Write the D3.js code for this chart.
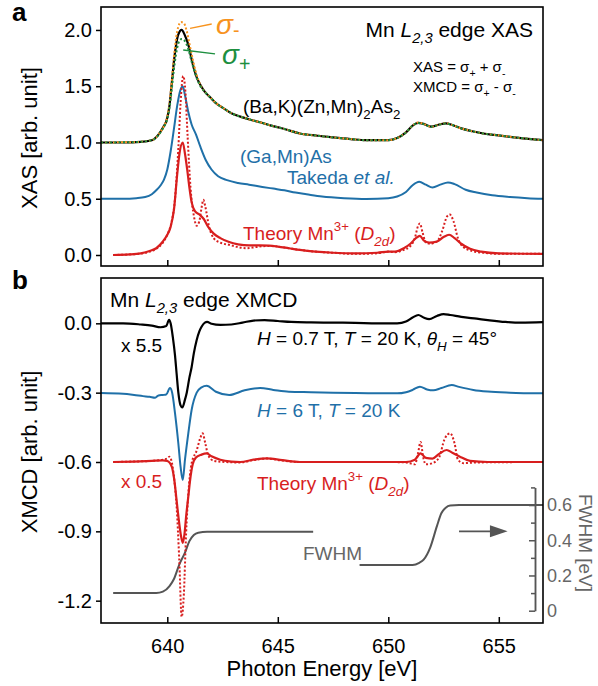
<!DOCTYPE html>
<html>
<head>
<meta charset="utf-8">
<script src="https://cdn.jsdelivr.net/npm/d3@7"></script>
<style>
  body { margin: 0; background: #fff; }
  svg { font-family: 'Liberation Sans', Arial, sans-serif; }
  .axis path { display: none; }
  .axis line { stroke: #000; stroke-width: 1.5; }
  .axis text { font-size: 20px; fill: #000; }
  .fw-axis line, .fw-axis path { stroke: #555; stroke-width: 1.5; }
  .fw-axis text { font-size: 18px; fill: #666; }
</style>
</head>
<body>
<div id="chart"></div>
<script>
const width = 598
const height = 686

// tick values
const energyTicks = [640, 645, 650, 655]
const xasTicks = [0, 0.5, 1, 1.5, 2]
const xmcdTicks = [0, -0.3, -0.6, -0.9, -1.2]
const fwhmTicks = [0, 0.2, 0.4, 0.6]
const fwhmMinorTicks = [0.1, 0.3, 0.5, 0.7]

// panel a: XAS, [energy eV, intensity]
const bkXas = [[637.0,1.0],[638.0,1.0],[638.8,1.005],[639.3,1.02],[639.6,1.07],[639.8,1.13],[640.0,1.22],[640.1,1.33],[640.2,1.52],[640.3,1.72],[640.4,1.87],[640.5,1.96],[640.65,2.0],[640.8,1.95],[640.95,1.87],[641.1,1.74],[641.2,1.66],[641.35,1.57],[641.5,1.51],[641.7,1.45],[641.95,1.4],[642.2,1.35],[642.5,1.31],[642.9,1.26],[643.3,1.23],[643.8,1.2],[644.2,1.18],[644.7,1.15],[645.3,1.12],[646.0,1.08],[646.8,1.06],[647.5,1.045],[648.3,1.03],[649.0,1.02],[650.0,1.02],[650.4,1.04],[650.8,1.09],[651.1,1.15],[651.35,1.175],[651.6,1.165],[651.95,1.14],[652.3,1.16],[652.6,1.17],[652.9,1.155],[653.3,1.125],[653.8,1.1],[654.3,1.08],[654.8,1.067],[655.5,1.05],[656.2,1.035],[657.0,1.02]]
const sigMinus = [[637.0,1.0],[638.5,1.003],[639.3,1.02],[639.6,1.07],[639.8,1.13],[640.0,1.23],[640.1,1.35],[640.2,1.54],[640.3,1.76],[640.4,1.93],[640.5,2.03],[640.62,2.07],[640.75,2.06],[640.88,1.99],[641.0,1.88],[641.15,1.74],[641.3,1.62],[641.5,1.51],[641.75,1.44],[641.95,1.4],[642.2,1.35],[642.5,1.31],[642.9,1.26],[643.3,1.23],[643.8,1.2],[644.2,1.18],[644.7,1.15],[645.3,1.12],[646.0,1.08],[646.8,1.06],[647.5,1.045],[648.3,1.03],[649.0,1.02],[650.0,1.02],[650.4,1.04],[650.8,1.09],[651.1,1.15],[651.35,1.178],[651.6,1.165],[651.95,1.14],[652.3,1.16],[652.6,1.172],[652.9,1.155],[653.3,1.125],[653.8,1.1],[654.3,1.08],[654.8,1.067],[655.5,1.05],[656.2,1.035],[657.0,1.02]]
const sigPlus = [[637.0,1.0],[638.5,1.003],[639.3,1.02],[639.6,1.065],[639.8,1.125],[640.0,1.21],[640.1,1.31],[640.2,1.47],[640.3,1.65],[640.4,1.79],[640.5,1.88],[640.65,1.92],[640.8,1.9],[640.95,1.83],[641.1,1.72],[641.3,1.59],[641.5,1.5],[641.75,1.44],[641.95,1.4],[642.2,1.35],[642.5,1.31],[642.9,1.26],[643.3,1.23],[643.8,1.2],[644.2,1.18],[644.7,1.15],[645.3,1.12],[646.0,1.08],[646.8,1.06],[647.5,1.045],[648.3,1.03],[649.0,1.02],[650.0,1.02],[650.4,1.04],[650.8,1.09],[651.1,1.15],[651.35,1.172],[651.6,1.163],[651.95,1.14],[652.3,1.158],[652.6,1.168],[652.9,1.155],[653.3,1.125],[653.8,1.1],[654.3,1.08],[654.8,1.067],[655.5,1.05],[656.2,1.035],[657.0,1.02]]
const gmXas = [[637.0,0.5],[638.0,0.5],[638.6,0.505],[639.0,0.515],[639.3,0.54],[639.5,0.575],[639.7,0.62],[639.85,0.67],[640.0,0.76],[640.15,0.92],[640.3,1.12],[640.45,1.33],[640.6,1.47],[640.7,1.5],[640.8,1.42],[640.95,1.27],[641.1,1.16],[641.3,1.07],[641.5,0.96],[641.75,0.84],[642.0,0.76],[642.3,0.7],[642.7,0.665],[643.2,0.64],[643.7,0.625],[644.3,0.605],[644.8,0.59],[645.3,0.575],[645.8,0.555],[646.3,0.54],[647.0,0.52],[648.0,0.505],[649.0,0.498],[650.0,0.505],[650.4,0.52],[650.8,0.56],[651.1,0.62],[651.4,0.65],[651.7,0.625],[652.0,0.6],[652.35,0.625],[652.7,0.645],[653.0,0.63],[653.5,0.58],[654.0,0.555],[654.7,0.53],[655.5,0.515],[656.3,0.505],[657.0,0.5]]
const thXas = [[637.55,0.0],[638.3,0.005],[638.8,0.015],[639.2,0.035],[639.5,0.06],[639.8,0.12],[640.0,0.18],[640.15,0.25],[640.3,0.4],[640.45,0.72],[640.55,0.9],[640.7,1.0],[640.8,0.9],[640.9,0.76],[641.0,0.6],[641.1,0.47],[641.25,0.39],[641.45,0.36],[641.65,0.32],[641.85,0.25],[642.1,0.19],[642.4,0.15],[642.8,0.115],[643.2,0.095],[643.7,0.085],[644.2,0.085],[644.6,0.083],[645.0,0.075],[645.5,0.06],[646.0,0.045],[646.7,0.03],[647.5,0.02],[648.5,0.015],[649.5,0.02],[650.0,0.03],[650.3,0.03],[650.7,0.06],[651.0,0.1],[651.25,0.15],[651.43,0.17],[651.6,0.13],[651.85,0.11],[652.2,0.12],[652.5,0.16],[652.75,0.18],[653.0,0.15],[653.3,0.1],[653.7,0.055],[654.2,0.03],[655.0,0.015],[657.0,0.01]]
const thXasRaw = [[637.55,0.0],[638.3,0.005],[638.8,0.012],[639.2,0.03],[639.5,0.055],[639.8,0.11],[640.0,0.18],[640.2,0.3],[640.35,0.5],[640.5,0.95],[640.6,1.35],[640.72,1.59],[640.82,1.45],[640.92,1.05],[641.05,0.6],[641.2,0.35],[641.33,0.26],[641.45,0.3],[641.55,0.42],[641.63,0.49],[641.72,0.43],[641.88,0.26],[642.1,0.15],[642.4,0.11],[642.8,0.09],[643.2,0.07],[643.6,0.06],[644.0,0.07],[644.5,0.08],[645.0,0.075],[645.5,0.06],[646.0,0.045],[646.7,0.03],[647.5,0.02],[648.5,0.01],[649.5,0.015],[650.0,0.03],[650.3,0.025],[650.7,0.045],[651.0,0.08],[651.2,0.15],[651.35,0.26],[651.43,0.28],[651.55,0.2],[651.7,0.11],[651.9,0.1],[652.2,0.12],[652.45,0.22],[652.65,0.34],[652.78,0.36],[652.95,0.3],[653.15,0.15],[653.4,0.07],[653.8,0.035],[654.3,0.02],[655.0,0.01],[657.0,0.01]]

// panel b: XMCD
const bkXmcd = [[637.0,0.0],[638.0,0.0],[638.8,-0.005],[639.3,-0.01],[639.7,-0.017],[639.95,-0.012],[640.08,0.015],[640.15,0.0],[640.25,-0.06],[640.35,-0.14],[640.42,-0.216],[640.5,-0.3],[640.6,-0.355],[640.68,-0.364],[640.8,-0.33],[640.88,-0.3],[641.0,-0.235],[641.1,-0.19],[641.2,-0.13],[641.33,-0.072],[641.45,-0.035],[641.55,-0.015],[641.7,0.003],[641.8,0.006],[642.0,-0.002],[642.4,-0.007],[642.9,-0.005],[643.4,0.003],[643.9,0.012],[644.4,0.014],[645.0,0.01],[645.6,0.006],[646.5,0.004],[647.5,0.003],[648.5,0.002],[649.5,0.0],[650.4,0.0],[650.8,0.008],[651.1,0.025],[651.36,0.036],[651.6,0.025],[651.85,0.018],[652.2,0.032],[652.5,0.04],[652.8,0.036],[653.3,0.028],[654.0,0.02],[654.5,0.014],[655.3,0.006],[656.0,0.003],[657.0,0.005]]
const gmXmcd = [[637.0,-0.302],[638.0,-0.305],[638.5,-0.31],[638.9,-0.315],[639.2,-0.318],[639.45,-0.322],[639.6,-0.312],[639.8,-0.31],[639.95,-0.308],[640.12,-0.28],[640.22,-0.3],[640.35,-0.39],[640.5,-0.52],[640.6,-0.62],[640.7,-0.678],[640.8,-0.59],[640.95,-0.476],[641.1,-0.375],[641.33,-0.3],[641.55,-0.277],[641.78,-0.27],[642.2,-0.296],[642.8,-0.31],[643.5,-0.29],[644.2,-0.28],[644.8,-0.288],[645.5,-0.296],[646.5,-0.298],[647.5,-0.3],[648.5,-0.302],[649.5,-0.303],[650.4,-0.303],[650.8,-0.298],[651.1,-0.288],[651.43,-0.274],[651.75,-0.286],[652.04,-0.29],[652.4,-0.28],[652.87,-0.267],[653.2,-0.275],[653.85,-0.288],[654.5,-0.295],[655.5,-0.3],[657.0,-0.303]]
const thXmcd = [[637.55,-0.6],[638.5,-0.598],[639.3,-0.595],[639.8,-0.593],[640.0,-0.596],[640.2,-0.62],[640.32,-0.68],[640.42,-0.765],[640.52,-0.85],[640.62,-0.92],[640.7,-0.95],[640.78,-0.91],[640.85,-0.837],[640.95,-0.75],[641.03,-0.68],[641.15,-0.61],[641.3,-0.58],[641.55,-0.568],[641.78,-0.563],[642.0,-0.575],[642.4,-0.59],[642.9,-0.598],[643.3,-0.6],[643.9,-0.59],[644.5,-0.584],[645.2,-0.592],[646.0,-0.6],[648.0,-0.6],[650.0,-0.6],[650.8,-0.6],[651.2,-0.59],[651.46,-0.563],[651.7,-0.582],[652.0,-0.585],[652.3,-0.565],[652.64,-0.548],[652.9,-0.56],[653.24,-0.577],[653.7,-0.595],[654.5,-0.6],[657.0,-0.6]]
const thXmcdRaw = [[637.55,-0.6],[638.5,-0.598],[639.3,-0.595],[639.8,-0.59],[640.0,-0.585],[640.1,-0.577],[640.2,-0.6],[640.32,-0.68],[640.42,-0.79],[640.54,-1.02],[640.65,-1.27],[640.75,-1.17],[640.85,-0.91],[640.95,-0.74],[641.1,-0.606],[641.33,-0.55],[641.48,-0.5],[641.6,-0.476],[641.72,-0.52],[641.85,-0.57],[642.1,-0.595],[642.6,-0.6],[643.3,-0.602],[643.9,-0.592],[644.5,-0.585],[645.2,-0.594],[646.0,-0.6],[648.0,-0.6],[650.0,-0.6],[650.8,-0.602],[651.2,-0.61],[651.35,-0.56],[651.46,-0.513],[651.58,-0.58],[651.7,-0.61],[652.0,-0.605],[652.3,-0.58],[652.55,-0.5],[652.8,-0.476],[653.0,-0.52],[653.15,-0.59],[653.4,-0.605],[654.0,-0.602],[657.0,-0.6]]

// broadening used for theory, right axis [eV]
const fwhmL3 = [[637.55,0.1],[639.5,0.1],[639.8,0.108],[640.1,0.14],[640.3,0.18],[640.55,0.265],[640.8,0.33],[641.0,0.395],[641.2,0.43],[641.4,0.443],[641.8,0.448],[646.6,0.448]]
const fwhmL2 = [[648.7,0.26],[651.1,0.26],[651.4,0.272],[651.6,0.29],[651.9,0.36],[652.2,0.48],[652.4,0.553],[652.6,0.585],[652.8,0.597],[653.2,0.6],[657.0,0.6]]

const black = '#000'
const orange = '#f7931e'
const green = '#1d8f3f'
const blue = '#1f70a8'
const red = '#d81e1e'
const gray = '#555'

const svg = d3
  .select('#chart')
  .append('svg')
  .attr('width', width)
  .attr('height', height)

const xPositionScale = d3.scaleLinear().domain([637, 657]).range([101, 543])
const yXas = d3.scaleLinear().domain([-0.0978, 2.204]).range([266, 7])
const yXmcd = d3.scaleLinear().domain([-1.2966, 0.1961]).range([623, 278])
const yFwhm = d3.scaleLinear().domain([0, 0.7]).range([610.7, 487.4])

const fmt = d => d.toFixed(1)

// clip each panel
const defs = svg.append('defs')
defs.append('clipPath').attr('id', 'clip-a')
  .append('rect').attr('x', 101).attr('y', 7).attr('width', 442).attr('height', 259)
defs.append('clipPath').attr('id', 'clip-b')
  .append('rect').attr('x', 101).attr('y', 278).attr('width', 442).attr('height', 345)

function drawLine(g, data, yScale, color, w, dash) {
  const line = d3.line()
    .x(d => xPositionScale(d[0]))
    .y(d => yScale(d[1]))
    .curve(d3.curveMonotoneX)
  g.append('path')
    .datum(data)
    .attr('d', line)
    .attr('fill', 'none')
    .attr('stroke', color)
    .attr('stroke-width', w)
    .attr('stroke-linejoin', 'round')
    .attr('stroke-dasharray', dash || null)
}

// text with italic / sub / sup parts
function rich(x, y, parts, opts) {
  const fs = opts.size || 19
  const subShift = opts.sub != null ? opts.sub : 0.3
  const t = svg.append('text')
    .attr('x', x)
    .attr('y', y)
    .attr('font-size', fs)
    .attr('fill', opts.color || '#000')
    .attr('text-anchor', opts.anchor || 'start')
  let cur = 0
  parts.forEach(p => {
    const s = p[1] || ''
    let shift = 0
    if (s.includes('sub')) shift = fs * subShift
    if (s.includes('sup')) shift = -fs * 0.5
    const ts = t.append('tspan').text(p[0]).attr('dy', shift - cur)
    cur = shift
    if (s.includes('i')) ts.attr('font-style', 'italic')
    if (s.includes('sub') || s.includes('sup')) ts.attr('font-size', fs * 0.7)
  })
  return t
}

// ---------- panel a ----------
const gA = svg.append('g').attr('clip-path', 'url(#clip-a)')
drawLine(gA, bkXas, yXas, black, 2.2)
drawLine(gA, sigMinus, yXas, orange, 2, '2,2')
drawLine(gA, sigPlus, yXas, green, 2, '2,2.4')
drawLine(gA, gmXas, yXas, blue, 2)
drawLine(gA, thXasRaw, yXas, red, 2, '2,2')
drawLine(gA, thXas, yXas, red, 2.2)

svg.append('g')
  .attr('class', 'axis')
  .attr('transform', 'translate(101,0)')
  .call(d3.axisLeft(yXas).tickValues(xasTicks).tickFormat(fmt).tickSize(5).tickPadding(4))
svg.append('g')
  .attr('class', 'axis')
  .attr('transform', 'translate(0,266)')
  .call(d3.axisBottom(xPositionScale).tickValues(energyTicks).tickSize(-6).tickFormat(''))

svg.append('rect')
  .attr('x', 101).attr('y', 7).attr('width', 442).attr('height', 259)
  .attr('fill', 'none').attr('stroke', '#000').attr('stroke-width', 1.6)

// sigma leader lines
svg.append('line')
  .attr('x1', xPositionScale(641.03)).attr('y1', yXas(2.015))
  .attr('x2', xPositionScale(642.01)).attr('y2', yXas(2.053))
  .attr('stroke', orange).attr('stroke-width', 1.3)
svg.append('line')
  .attr('x1', xPositionScale(640.72)).attr('y1', yXas(1.822))
  .attr('x2', xPositionScale(642.16)).attr('y2', yXas(1.787))
  .attr('stroke', green).attr('stroke-width', 1.3)

rich(216, 34, [['σ', 'i'], ['-', 'sub']], { size: 28, color: orange, sub: 0.12 })
rich(222, 64, [['σ', 'i'], ['+', 'sub']], { size: 28, color: green, sub: 0.25 })

rich(533, 37, [['Mn '], ['L', 'i'], ['2,3', 'isub'], [' edge XAS']], { size: 21, anchor: 'end' })
rich(413, 72, [['XAS = σ'], ['+', 'sub'], [' + σ'], ['-', 'sub']], { size: 15 })
rich(413, 92, [['XMCD = σ'], ['+', 'sub'], [' - σ'], ['-', 'sub']], { size: 15 })
rich(243, 113, [['(Ba,K)(Zn,Mn)'], ['2', 'sub'], ['As'], ['2', 'sub']], { size: 19 })
rich(240, 163, [['(Ga,Mn)As']], { size: 19, color: blue })
rich(287, 184, [['Takeda '], ['et al.', 'i']], { size: 19, color: blue })
rich(243, 240, [['Theory Mn'], ['3+', 'sup'], [' ('], ['D', 'i'], ['2d', 'isub'], [')']], { size: 19, color: red })

// ---------- panel b ----------
const gB = svg.append('g').attr('clip-path', 'url(#clip-b)')
drawLine(gB, fwhmL3, yFwhm, gray, 2)
drawLine(gB, fwhmL2, yFwhm, gray, 2)
drawLine(gB, bkXmcd, yXmcd, black, 2.2)
drawLine(gB, gmXmcd, yXmcd, blue, 2)
drawLine(gB, thXmcdRaw, yXmcd, red, 2, '2,2')
drawLine(gB, thXmcd, yXmcd, red, 2.2)

svg.append('g')
  .attr('class', 'axis')
  .attr('transform', 'translate(101,0)')
  .call(d3.axisLeft(yXmcd).tickValues(xmcdTicks).tickFormat(fmt).tickSize(5).tickPadding(4))
svg.append('g')
  .attr('class', 'axis')
  .attr('transform', 'translate(0,623)')
  .call(d3.axisBottom(xPositionScale).tickValues(energyTicks).tickSize(-6).tickPadding(16))

// FWHM axis inside the panel
svg.append('g')
  .attr('class', 'fw-axis')
  .attr('transform', 'translate(535,0)')
  .call(d3.axisRight(yFwhm).tickValues(fwhmTicks).tickFormat(d => d === 0 ? '0' : d.toFixed(1))
    .tickSizeInner(-6).tickSizeOuter(0).tickPadding(12))
svg.append('g')
  .attr('class', 'fw-axis')
  .attr('transform', 'translate(535,0)')
  .call(d3.axisRight(yFwhm).tickValues(fwhmMinorTicks).tickFormat('').tickSizeInner(-4).tickSizeOuter(0))

svg.append('rect')
  .attr('x', 101).attr('y', 278).attr('width', 442).attr('height', 345)
  .attr('fill', 'none').attr('stroke', '#000').attr('stroke-width', 1.6)

// arrow pointing at the FWHM axis
svg.append('line')
  .attr('x1', xPositionScale(653.2)).attr('y1', yXmcd(-0.9))
  .attr('x2', xPositionScale(654.7)).attr('y2', yXmcd(-0.9))
  .attr('stroke', gray).attr('stroke-width', 1.6)
svg.append('path')
  .attr('d', d3.line()([
    [xPositionScale(654.6), yXmcd(-0.9) - 6],
    [xPositionScale(655.4), yXmcd(-0.9)],
    [xPositionScale(654.6), yXmcd(-0.9) + 6]
  ]) + 'Z')
  .attr('fill', gray)

rich(110, 307, [['Mn '], ['L', 'i'], ['2,3', 'isub'], [' edge XMCD']], { size: 21 })
rich(121, 352, [['x 5.5']], { size: 19 })
rich(257, 345, [['H', 'i'], [' = 0.7 T, '], ['T', 'i'], [' = 20 K, '], ['θ', 'i'], ['H', 'isub'], [' = 45°']], { size: 19 })
rich(257, 417, [['H', 'i'], [' = 6 T, '], ['T', 'i'], [' = 20 K']], { size: 19, color: blue })
rich(121, 488, [['x 0.5']], { size: 19, color: red })
rich(257, 490, [['Theory Mn'], ['3+', 'sup'], [' ('], ['D', 'i'], ['2d', 'isub'], [')']], { size: 19, color: red })
rich(303, 560, [['FWHM']], { size: 19, color: '#666' })

// axis titles
svg.append('text')
  .attr('transform', 'translate(37,138) rotate(-90)')
  .attr('text-anchor', 'middle').attr('font-size', 22)
  .text('XAS [arb. unit]')
svg.append('text')
  .attr('transform', 'translate(37,452) rotate(-90)')
  .attr('text-anchor', 'middle').attr('font-size', 22)
  .text('XMCD [arb. unit]')
svg.append('text')
  .attr('x', 322).attr('y', 676)
  .attr('text-anchor', 'middle').attr('font-size', 22)
  .text('Photon Energy [eV]')
svg.append('text')
  .attr('transform', 'translate(579,543) rotate(90)')
  .attr('text-anchor', 'middle').attr('font-size', 19).attr('fill', '#666')
  .text('FWHM [eV]')

// panel letters
svg.append('text').attr('x', 12).attr('y', 21)
  .attr('font-size', 26).attr('font-weight', 'bold').text('a')
svg.append('text').attr('x', 12).attr('y', 289)
  .attr('font-size', 26).attr('font-weight', 'bold').text('b')
</script>
</body>
</html>
